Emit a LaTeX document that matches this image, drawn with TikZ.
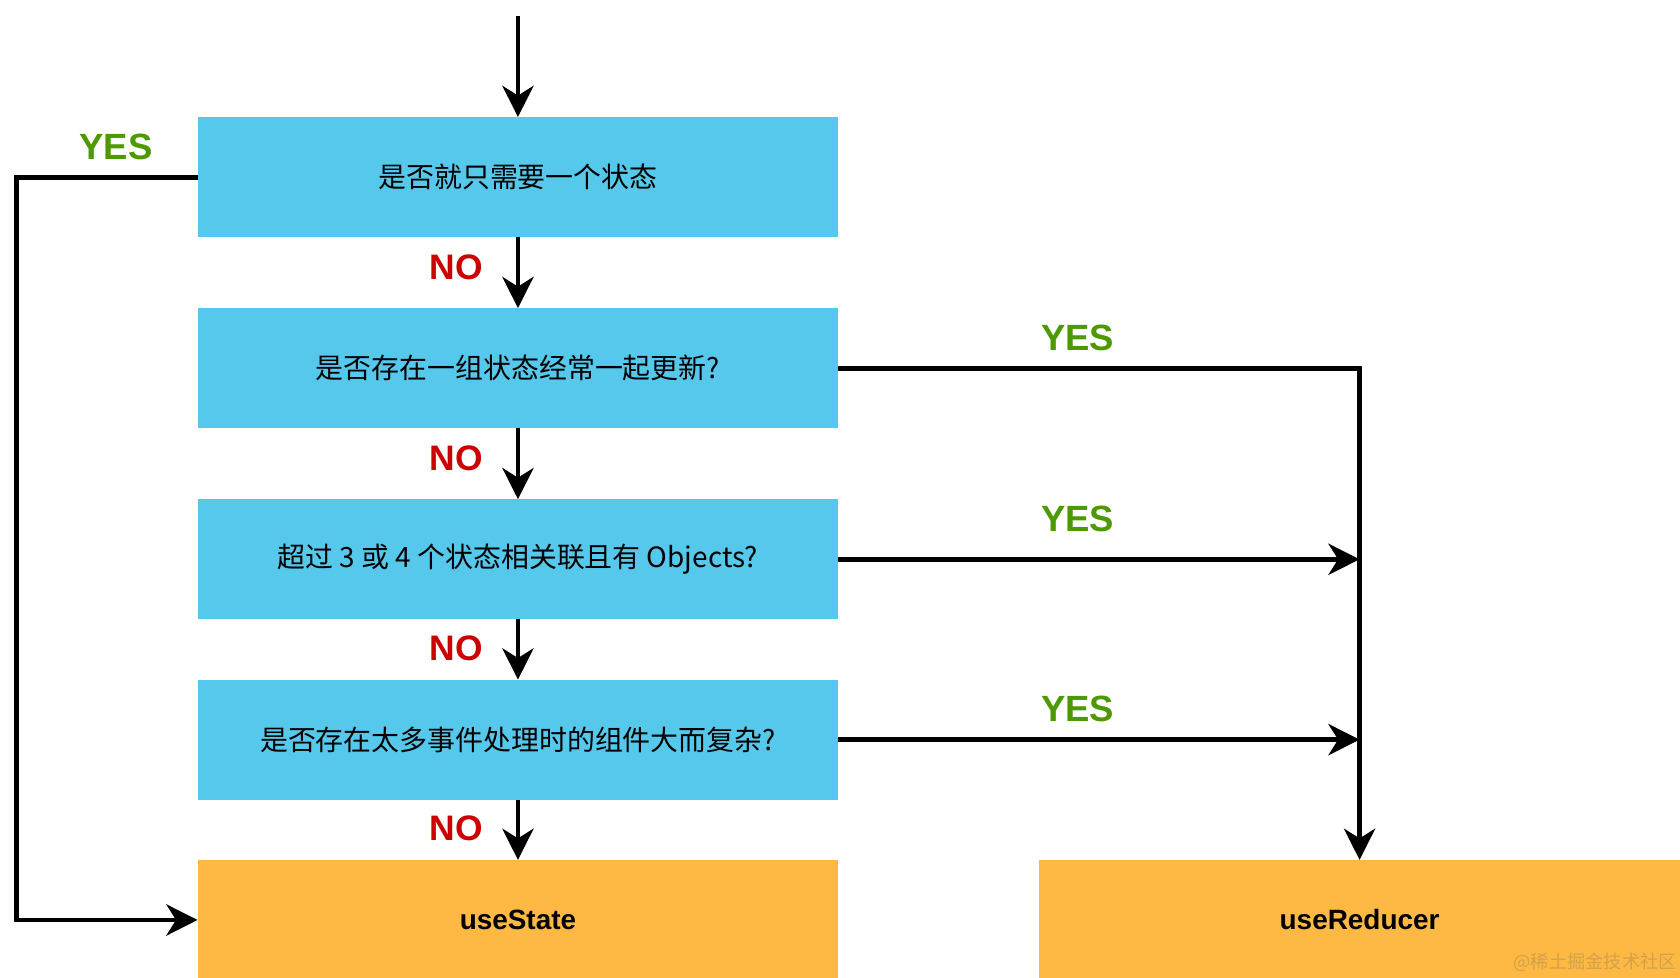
\documentclass[tikz,border=0pt]{standalone}
\usepackage{fontspec}
\setmainfont{Liberation Sans}
\newfontfamily\cjkfont{Noto Sans CJK SC}
\usetikzlibrary{arrows.meta,positioning}

\definecolor{qblue}{HTML}{55C8EC}
\definecolor{aorange}{HTML}{FDB943}
\definecolor{yesgreen}{HTML}{4D9900}
\definecolor{nored}{HTML}{CC0000}
\definecolor{markgray}{HTML}{D2A24A}

\begin{document}
\begin{tikzpicture}[->,>={Stealth[length=29pt,width=29pt,inset=9pt]},line width=4.5pt,
  x=1pt,y=1pt,
  question/.style={rectangle,fill=qblue,outer sep=0pt,inner sep=0pt,minimum width=597pt,minimum height=112pt,font=\cjkfont\fontsize{26}{26}\selectfont},
  answer/.style={rectangle,fill=aorange,outer sep=0pt,inner sep=0pt,minimum width=597pt,minimum height=112pt,font=\bfseries\fontsize{26}{26}\selectfont},
  yes/.style={text=yesgreen,font=\bfseries\fontsize{34}{34}\selectfont},
  no/.style={text=nored,font=\bfseries\fontsize{33}{33}\selectfont}]

 \useasboundingbox (0,0) rectangle (1565,-911);

 \node[question] (q1) at (482.5,-165) {是否就只需要一个状态};
 \node[question] (q2) [below=66pt of q1] {是否存在一组状态经常一起更新?};
 \node[question] (q3) [below=66pt of q2] {超过 3 或 4 个状态相关联且有 Objects?};
 \node[question] (q4) [below=56pt of q3] {是否存在太多事件处理时的组件大而复杂?};
 \node[answer] (us) [below=56pt of q4] {useState};
 \node[answer] (ur) [right=187pt of us] {useReducer};
 \node[text=markgray,font=\cjkfont\fontsize{17}{17}\selectfont] (mark) at (1486,-896) {@稀土掘金技术社区};

 \node[yes] (y1) at (108,-137) {YES};
 \node[yes] (y2) at (1004,-315) {YES};
 \node[yes] (y3) at (1004,-483) {YES};
 \node[yes] (y4) at (1004,-660) {YES};
 \node[no] (n1) at (425,-249) {NO};
 \node[no] (n2) at (425,-427) {NO};
 \node[no] (n3) at (425,-604) {NO};
 \node[no] (n4) at (425,-772) {NO};

 \coordinate (start) at (482.5,-15);

 \draw (start) -- (q1);
 \draw (q1) -- (q2);
 \draw (q2) -- (q3);
 \draw (q3) -- (q4);
 \draw (q4) -- (us);
 \draw (q1.west) -- ++(-169,0) |- (us.west);
 \draw (q2.east) -| (ur.north);
 \draw (q3.east) -- (q3.east -| ur.north);
 \draw (q4.east) -- (q4.east -| ur.north);

\end{tikzpicture}
\end{document}
